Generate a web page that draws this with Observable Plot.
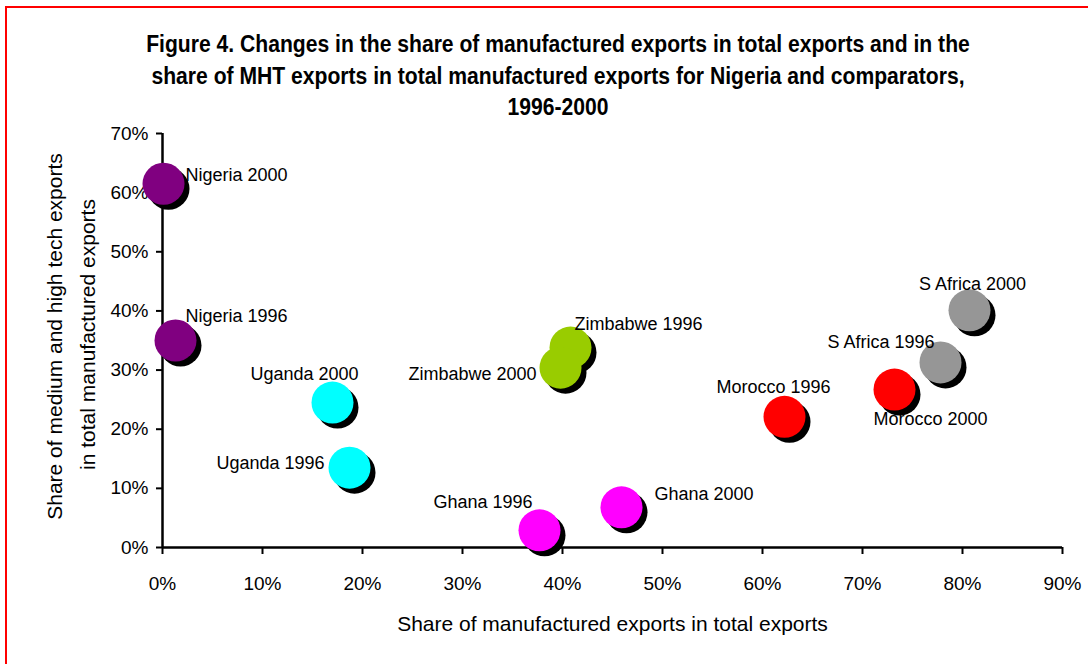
<!DOCTYPE html>
<html>
<head>
<meta charset="utf-8">
<script src="https://cdn.jsdelivr.net/npm/d3@7"></script>
<script src="https://cdn.jsdelivr.net/npm/@observablehq/plot@0.6"></script>
<style>
  html, body { margin: 0; padding: 0; background: #fff; }
  #wrap { position: relative; width: 1088px; height: 664px; overflow: hidden; font-family: "Liberation Sans", Arial, sans-serif; }
  #border { position: absolute; left: 5px; top: 6px; width: 1100px; height: 700px; border: 2px solid #ff0000; box-sizing: border-box; }
  #title { position: absolute; left: 14px; width: 1088px; top: 29px; text-align: center; white-space: nowrap;
           font-family: "Liberation Sans", Arial, sans-serif; font-weight: bold; font-size: 23px; line-height: 31.5px; color: #000;
           transform: scaleX(0.918); transform-origin: 50% 0; }
  #chart { position: absolute; left: 0; top: 0; }
</style>
</head>
<body>
<div id="wrap">
  <div id="border"></div>
  <div id="chart"></div>
  <div id="title">Figure 4. Changes in the share of manufactured exports in total exports and in the<br>share of MHT exports in total manufactured exports for Nigeria and comparators,<br>1996-2000</div>
</div>
<script>
// Data
const countries = ["Nigeria", "Nigeria", "Uganda", "Uganda", "Zimbabwe", "Zimbabwe", "Ghana", "Ghana", "Morocco", "Morocco", "S Africa", "S Africa"];
const years     = ["2000", "1996", "2000", "1996", "1996", "2000", "1996", "2000", "1996", "2000", "1996", "2000"];
const manufShare = [0.001, 0.013, 0.170, 0.187, 0.408, 0.398, 0.377, 0.459, 0.622, 0.732, 0.778, 0.807];
const mhtShare   = [0.615, 0.350, 0.245, 0.135, 0.338, 0.304, 0.029, 0.068, 0.221, 0.267, 0.313, 0.401];
const xTicks = [0, 0.1, 0.2, 0.3, 0.4, 0.5, 0.6, 0.7, 0.8, 0.9];
const yTicks = [0, 0.1, 0.2, 0.3, 0.4, 0.5, 0.6, 0.7];
const countryNames  = ["Nigeria", "Uganda", "Zimbabwe", "Ghana", "Morocco", "S Africa"];
const countryColors = ["#800080", "#00ffff", "#99cc00", "#ff00ff", "#ff0000", "#969696"];

// Label placement (styling, not data): [dx, dy, anchor]
const labelPlacement = {
  "Nigeria 2000":  [22, -9, "start"],
  "Nigeria 1996":  [10, -24, "start"],
  "Uganda 2000":   [26, -28, "end"],
  "Uganda 1996":   [-25, -4, "end"],
  "Zimbabwe 1996": [4, -23, "start"],
  "Zimbabwe 2000": [-24, 7, "end"],
  "Ghana 1996":    [-7, -28, "end"],
  "Ghana 2000":    [33, -13, "start"],
  "Morocco 1996":  [-11, -30, "middle"],
  "Morocco 2000":  [-21, 30, "start"],
  "S Africa 1996": [-6, -20, "end"],
  "S Africa 2000": [3, -26, "middle"]
};

const points = countries.map((c, i) => ({
  country: c, year: years[i], label: c + " " + years[i], x: manufShare[i], y: mhtShare[i]
}));

const fmt = d3.format(".0%");
const labelMarks = points.map(p => Plot.text([p], {
  x: "x", y: "y", text: "label", textAnchor: labelPlacement[p.label][2],
  dx: labelPlacement[p.label][0], dy: labelPlacement[p.label][1],
  fontSize: 18, fill: "#000"
}));

const chart = Plot.plot({
  width: 1088,
  height: 664,
  marginLeft: 162,
  marginRight: 26,
  marginTop: 133,
  marginBottom: 117,
  style: { fontFamily: "'Liberation Sans', Arial, sans-serif", background: "transparent", overflow: "visible" },
  x: { domain: [0, 0.9], ticks: xTicks, tickFormat: fmt, label: null },
  y: { domain: [0, 0.7], ticks: yTicks, tickFormat: fmt, label: null },
  color: { domain: countryNames, range: countryColors },
  marks: [
    Plot.axisX({ ticks: xTicks, tickFormat: fmt, tickSize: 7, tickPadding: 22, fontSize: 19, stroke: "#000", strokeWidth: 2, label: null }),
    Plot.axisY({ ticks: yTicks, tickFormat: fmt, tickSize: 6, tickPadding: 8, fontSize: 19, stroke: "#000", strokeWidth: 2, label: null }),
    Plot.ruleY([0], { stroke: "#000", strokeWidth: 2.5 }),
    Plot.ruleX([0], { stroke: "#000", strokeWidth: 2.5 }),
    Plot.dot(points, { x: "x", y: "y", r: 21, fill: "#000", dx: 5, dy: 5 }),
    Plot.dot(points, { x: "x", y: "y", r: 21, fill: d => d.country }),
    ...labelMarks,
    Plot.text(["Share of manufactured exports in total exports"], { frameAnchor: "bottom", textAnchor: "middle", dy: 83, fontSize: 21, fill: "#000" }),
    Plot.text(["Share of medium and high tech exports"], { frameAnchor: "left", textAnchor: "middle", dx: -107, dy: -4, rotate: -90, fontSize: 21, fill: "#000" }),
    Plot.text(["in total manufactured exports"], { frameAnchor: "left", textAnchor: "middle", dx: -74, dy: -6, rotate: -90, fontSize: 21, fill: "#000" })
  ]
});
document.getElementById("chart").appendChild(chart);
</script>
</body>
</html>
